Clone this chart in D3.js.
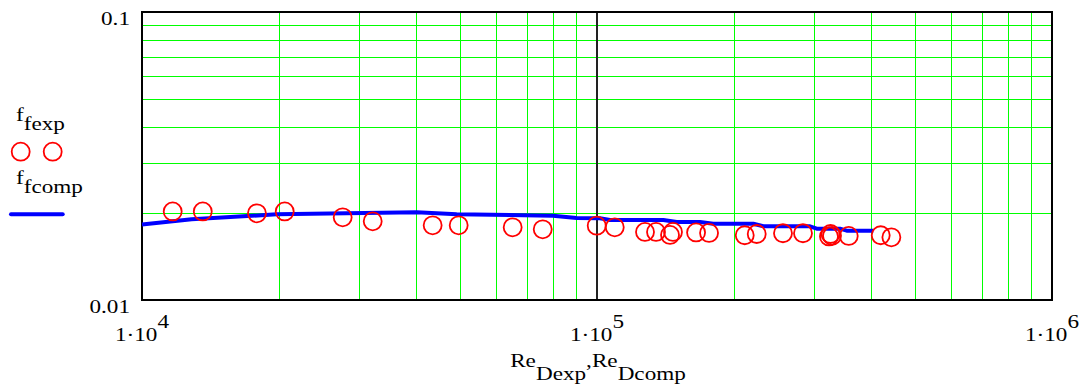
<!DOCTYPE html>
<html>
<head>
<meta charset="utf-8">
<script src="https://cdn.jsdelivr.net/npm/d3@7"></script>
<style>
  body { margin: 0; background: #fff; }
  text { font-family: "Liberation Serif", "Times New Roman", serif; font-size: 19px; fill: #000; }
</style>
</head>
<body>
<svg id="chart" width="1083" height="385"></svg>
<script>
// experimental points (Re_Dexp, f_fexp)
var reExp = [11680, 13600, 17890, 20590, 27610, 32140, 43530, 49660, 65260, 75980,
             99850, 109400, 127500, 134800, 144700, 146900, 165100, 176300, 211200, 224400,
             256300, 283600, 323500, 326000, 328500, 357500, 420300, 443600];
var fExp = [0.0203, 0.0203, 0.0200, 0.0203, 0.01937, 0.01876, 0.01817, 0.01817, 0.01788, 0.0176,
            0.01811, 0.01788, 0.01723, 0.01723, 0.01682, 0.01723, 0.01716, 0.01709, 0.01678, 0.01695,
            0.01705, 0.01705, 0.01662, 0.01695, 0.0167, 0.01669, 0.01678, 0.01651];

// computed curve (Re_Dcomp, f_fcomp)
var reComp = [10000, 12860, 19770, 40150, 49150, 80040, 90230, 101500, 106800, 139900,
              149700, 168400, 180100, 220600, 232100, 293900, 304000, 342000, 353800, 404900];
var fComp = [0.01829, 0.01906, 0.01984, 0.02016, 0.01984, 0.01962, 0.01926, 0.01921, 0.01896, 0.01896,
             0.01866, 0.01866, 0.0184, 0.0184, 0.01803, 0.01803, 0.01769, 0.01769, 0.01741, 0.01741];

var xTickExp = [4, 5, 6];      // 1·10^n
var yTickLabels = [0.01, 0.1];

var plotLeft = 142, plotRight = 1052, plotTop = 12, plotBottom = 300;
var stretch = 1.22; // text in the picture is wider than plain Times

var svg = d3.select("#chart");

var x = d3.scaleLog().domain([1e4, 1e6]).range([plotLeft, plotRight]);
var y = d3.scaleLog().domain([0.01, 0.1]).range([plotBottom, plotTop]);

// green grid
var gx = x.ticks().filter(function (d) { return d > 1e4 && d < 1e6 && Math.abs(d - 1e5) > 1; });
var gy = y.ticks().filter(function (d) { return d > 0.0100001 && d < 0.0999; });

var grid = svg.append("g").attr("shape-rendering", "crispEdges");

grid.selectAll("line.gx").data(gx).enter().append("line")
    .attr("class", "gx")
    .attr("x1", function (d) { return Math.round(x(d)) + 0.5; })
    .attr("x2", function (d) { return Math.round(x(d)) + 0.5; })
    .attr("y1", plotTop).attr("y2", plotBottom)
    .attr("stroke", "#00ff00").attr("stroke-width", 1);

grid.selectAll("line.gy").data(gy).enter().append("line")
    .attr("class", "gy")
    .attr("y1", function (d) { return Math.round(y(d)) + 0.5; })
    .attr("y2", function (d) { return Math.round(y(d)) + 0.5; })
    .attr("x1", plotLeft).attr("x2", plotRight)
    .attr("stroke", "#00ff00").attr("stroke-width", 1);

// decade line
svg.append("line")
    .attr("x1", x(1e5)).attr("x2", x(1e5))
    .attr("y1", plotTop).attr("y2", plotBottom)
    .attr("stroke", "#222").attr("stroke-width", 2);

// frame
svg.append("rect")
    .attr("x", plotLeft).attr("y", plotTop)
    .attr("width", plotRight - plotLeft).attr("height", plotBottom - plotTop)
    .attr("fill", "none").attr("stroke", "#000").attr("stroke-width", 2);

// computed curve
var line = d3.line()
    .x(function (d) { return x(d[0]); })
    .y(function (d) { return y(d[1]); });

svg.append("path")
    .datum(d3.zip(reComp, fComp))
    .attr("d", line)
    .attr("fill", "none")
    .attr("stroke", "#0000ff")
    .attr("stroke-width", 4)
    .attr("stroke-linejoin", "round");

// experimental circles
svg.append("g").selectAll("circle").data(d3.zip(reExp, fExp)).enter().append("circle")
    .attr("cx", function (d) { return x(d[0]); })
    .attr("cy", function (d) { return y(d[1]); })
    .attr("r", 9)
    .attr("fill", "none")
    .attr("stroke", "#ff0000")
    .attr("stroke-width", 1.8);

// helper: text with horizontal stretch
function label(px, py, anchor) {
    return svg.append("text")
        .attr("transform", "translate(" + px + "," + py + ") scale(" + stretch + ",1)")
        .attr("text-anchor", anchor || "start");
}

// y tick labels
yTickLabels.forEach(function (v) {
    label(130, y(v) + 13, "end").text(String(v));
});

// x tick labels 1·10^n
xTickExp.forEach(function (n) {
    var t = label(x(Math.pow(10, n)), 341, "middle");
    t.append("tspan").text("1\u00b710");
    t.append("tspan").attr("dy", -13).text(n);
});

// x axis title
var title = label(598, 367, "middle");
title.append("tspan").text("Re");
title.append("tspan").attr("dy", 13).text("Dexp");
title.append("tspan").attr("dy", -13).text(",");
title.append("tspan").text("Re");
title.append("tspan").attr("dy", 13).text("Dcomp");

// legend
var l1 = label(16, 121);
l1.append("tspan").text("f");
l1.append("tspan").attr("dy", 8.5).text("fexp");

svg.append("g").selectAll("circle").data([20.7, 52.7]).enter().append("circle")
    .attr("cx", function (d) { return d; })
    .attr("cy", 151.7)
    .attr("r", 9)
    .attr("fill", "none")
    .attr("stroke", "#ff0000")
    .attr("stroke-width", 1.8);

var l2 = label(16, 184);
l2.append("tspan").text("f");
l2.append("tspan").attr("dy", 8.5).text("fcomp");

svg.append("line")
    .attr("x1", 11).attr("x2", 62.7)
    .attr("y1", 214.3).attr("y2", 214.3)
    .attr("stroke", "#0000ff").attr("stroke-width", 4)
    .attr("stroke-linecap", "round");
</script>
</body>
</html>
